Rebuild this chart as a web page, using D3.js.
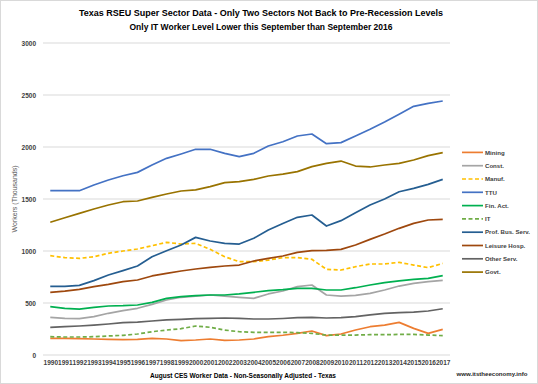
<!DOCTYPE html>
<html>
<head>
    <title>texas_rseu</title>
    <script src="https://d3js.org/d3.v7.min.js"></script>
    <style>
        body { margin: 0; background: #fff; }
        text { font-family: 'Liberation Sans', Arial, sans-serif; }
    </style>
</head>
<body>
    <svg width="538" height="384" id="mainsvg"></svg>
    <script>
        const years = d3.range(1990, 2018).map(String);
        const yTicks = [0, 500, 1000, 1500, 2000, 2500, 3000];

        const seriesNames = ['Mining', 'Const.', 'Manuf.', 'TTU', 'Fin. Act.', 'IT', 'Prof. Bus. Serv.', 'Leisure Hosp.', 'Other Serv.', 'Govt.'];
        const seriesColors = ['#ED7D31', '#A5A5A5', '#FFC000', '#4472C4', '#00B050', '#70AD47', '#255E91', '#9E480E', '#636363', '#997300'];
        const seriesDashed = [false, false, true, false, false, true, false, false, false, false];

        const mining = [160, 160, 157, 154, 150, 148, 150, 160, 154, 138, 144, 154, 141, 144, 154, 176, 190, 208, 231, 186, 202, 240, 272, 288, 314, 256, 208, 247];
        const constr = [362, 353, 349, 369, 401, 426, 449, 487, 529, 555, 567, 577, 567, 555, 545, 587, 615, 657, 673, 577, 567, 574, 593, 625, 663, 689, 705, 718];
        const manuf = [955, 936, 929, 945, 978, 1000, 1019, 1051, 1083, 1067, 1074, 1016, 945, 897, 897, 913, 936, 936, 920, 824, 817, 849, 875, 875, 891, 865, 840, 881];
        const ttu = [1580, 1580, 1580, 1635, 1683, 1724, 1756, 1827, 1891, 1933, 1978, 1978, 1939, 1907, 1939, 2010, 2050, 2106, 2125, 2032, 2042, 2106, 2170, 2240, 2314, 2391, 2420, 2442];
        const finAct = [465, 449, 442, 458, 471, 474, 481, 506, 545, 561, 570, 577, 577, 587, 603, 619, 628, 641, 641, 625, 625, 647, 673, 696, 712, 728, 737, 763];
        const it = [176, 173, 173, 176, 183, 189, 202, 224, 240, 253, 279, 266, 240, 224, 218, 218, 218, 215, 208, 192, 192, 192, 195, 195, 198, 198, 192, 186];
        const profBus = [660, 660, 670, 715, 769, 811, 856, 945, 1003, 1058, 1131, 1096, 1074, 1067, 1122, 1202, 1265, 1324, 1346, 1240, 1292, 1368, 1442, 1500, 1570, 1602, 1641, 1689];
        const leisure = [603, 615, 631, 657, 679, 705, 721, 760, 785, 808, 827, 843, 856, 865, 904, 929, 952, 987, 1003, 1006, 1016, 1058, 1112, 1163, 1218, 1266, 1298, 1304];
        const otherServ = [266, 272, 279, 288, 298, 311, 317, 327, 337, 343, 349, 353, 356, 353, 346, 346, 351, 359, 362, 356, 359, 369, 385, 401, 407, 413, 423, 445];
        const govt = [1276, 1320, 1362, 1404, 1442, 1474, 1481, 1516, 1548, 1577, 1587, 1619, 1657, 1667, 1689, 1721, 1740, 1763, 1811, 1843, 1865, 1817, 1808, 1827, 1843, 1875, 1917, 1946];

        const seriesValues = [mining, constr, manuf, ttu, finAct, it, profBus, leisure, otherServ, govt];

        const svg = d3.select('#mainsvg');
        const plot = { left: 43, right: 450, top: 43, bottom: 355 };

        svg.append('rect')
            .attr('x', 0.5).attr('y', 0.5)
            .attr('width', 537).attr('height', 383)
            .attr('fill', '#fff')
            .attr('stroke', '#D9D9D9');

        const x = d3.scalePoint()
            .domain(years)
            .range([plot.left, plot.right])
            .padding(0.5);
        const y = d3.scaleLinear()
            .domain([0, 3000])
            .range([plot.bottom, plot.top]);

        // gridlines
        svg.append('g').selectAll('line').data(yTicks)
            .enter().append('line')
            .attr('x1', plot.left).attr('x2', plot.right)
            .attr('y1', d => y(d)).attr('y2', d => y(d))
            .attr('stroke', '#D9D9D9')
            .attr('stroke-width', 1);

        const xAxis = svg.append('g')
            .attr('transform', `translate(0,${plot.bottom})`)
            .call(d3.axisBottom(x).tickSize(0).tickPadding(5));
        xAxis.select('.domain').remove();
        xAxis.selectAll('text')
            .attr('font-size', 6.5)
            .attr('font-weight', 'bold')
            .attr('fill', '#404040')
            .style('font-family', "'Liberation Sans', Arial, sans-serif");

        const yAxis = svg.append('g')
            .attr('transform', `translate(${plot.left},0)`)
            .call(d3.axisLeft(y).tickValues(yTicks).tickFormat(d3.format('d')).tickSize(0).tickPadding(7));
        yAxis.select('.domain').remove();
        yAxis.selectAll('text')
            .attr('font-size', 6.5)
            .attr('font-weight', 'bold')
            .attr('fill', '#404040')
            .style('font-family', "'Liberation Sans', Arial, sans-serif");

        const line = d3.line()
            .x((d, i) => x(years[i]))
            .y(d => y(d));

        seriesValues.forEach((vals, k) => {
            svg.append('path')
                .datum(vals)
                .attr('d', line)
                .attr('fill', 'none')
                .attr('stroke', seriesColors[k])
                .attr('stroke-width', 1.7)
                .attr('stroke-linejoin', 'round')
                .attr('stroke-dasharray', seriesDashed[k] ? '4,2.5' : null);
        });

        // legend
        const legend = svg.append('g').selectAll('g').data(seriesNames)
            .enter().append('g')
            .attr('transform', (d, i) => `translate(462,${152.4 + i * 13.3})`);
        legend.append('line')
            .attr('x1', 0).attr('x2', 21)
            .attr('stroke', (d, i) => seriesColors[i])
            .attr('stroke-width', 1.7)
            .attr('stroke-dasharray', (d, i) => seriesDashed[i] ? '4,2.5' : null);
        legend.append('text')
            .attr('x', 23).attr('y', 2.2)
            .attr('font-size', 6.1)
            .attr('font-weight', 'bold')
            .attr('fill', '#404040')
            .text(d => d);

        // titles
        svg.append('text')
            .attr('x', 261).attr('y', 16)
            .attr('text-anchor', 'middle')
            .attr('font-size', 8.6).attr('font-weight', 'bold')
            .attr('fill', '#000')
            .attr('textLength', 364).attr('lengthAdjust', 'spacingAndGlyphs')
            .text('Texas RSEU Super Sector Data - Only Two Sectors Not Back to Pre-Recession Levels');
        svg.append('text')
            .attr('x', 261).attr('y', 30)
            .attr('text-anchor', 'middle')
            .attr('font-size', 8.6).attr('font-weight', 'bold')
            .attr('fill', '#000')
            .attr('textLength', 263).attr('lengthAdjust', 'spacingAndGlyphs')
            .text('Only IT Worker Level Lower this September than September 2016');

        svg.append('text')
            .attr('x', 243).attr('y', 377.5)
            .attr('text-anchor', 'middle')
            .attr('font-size', 6.6).attr('font-weight', 'bold')
            .attr('fill', '#000')
            .attr('textLength', 186).attr('lengthAdjust', 'spacingAndGlyphs')
            .text('August CES Worker Data - Non-Seasonally Adjusted - Texas');

        svg.append('text')
            .attr('transform', `translate(17,${(plot.top + plot.bottom) / 2}) rotate(-90)`)
            .attr('text-anchor', 'middle')
            .attr('font-size', 7)
            .attr('fill', '#595959')
            .text('Workers (Thousands)');

        svg.append('text')
            .attr('x', 492).attr('y', 375.5)
            .attr('text-anchor', 'middle')
            .attr('font-size', 6.2).attr('font-weight', 'bold')
            .attr('fill', '#262626')
            .attr('textLength', 71).attr('lengthAdjust', 'spacingAndGlyphs')
            .text('www.itstheeconomy.info');
    </script>
</body>
</html>
